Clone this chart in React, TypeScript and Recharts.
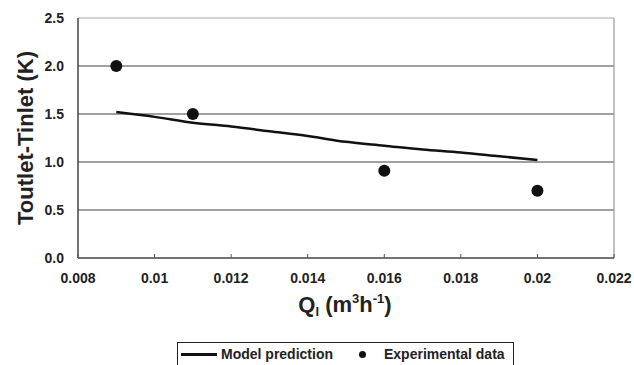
import { ComposedChart, Line, Scatter, XAxis, YAxis, CartesianGrid, ReferenceLine } from "recharts";

// Model prediction curve (Ql, Toutlet-Tinlet)
const modelQ = [0.009, 0.01, 0.011, 0.012, 0.013, 0.014, 0.015, 0.016, 0.017, 0.018, 0.019, 0.02];
const modelDT = [1.52, 1.47, 1.41, 1.37, 1.32, 1.27, 1.21, 1.17, 1.13, 1.1, 1.06, 1.02];

// Experimental points
const expQ = [0.009, 0.011, 0.016, 0.02];
const expDT = [2.0, 1.5, 0.91, 0.7];

const xTicks = [0.008, 0.01, 0.012, 0.014, 0.016, 0.018, 0.02, 0.022];
const yTicks = [0, 0.5, 1.0, 1.5, 2.0, 2.5];
const gridY = [0.5, 1.0, 1.5, 2.0];

const modelData = modelQ.map((q, i) => ({ q, dt: modelDT[i] }));
const expData = expQ.map((q, i) => ({ q, dt: expDT[i] }));

const font = "'Liberation Sans', Arial, sans-serif";
const ink = "#222";

function XTick({ x, y, payload }: any) {
  return (
    <g>
      <line x1={x} x2={x} y1={y} y2={y - 4} stroke="#555" strokeWidth={1} />
      <text x={x} y={y + 25} textAnchor="middle" fontFamily={font} fontWeight="bold" fontSize={14} fill={ink}>
        {String(payload.value)}
      </text>
    </g>
  );
}

function YTick({ x, y, payload }: any) {
  return (
    <text x={x - 6} y={y + 5} textAnchor="end" fontFamily={font} fontWeight="bold" fontSize={14} fill={ink}>
      {payload.value.toFixed(1)}
    </text>
  );
}

function XLabel({ viewBox }: any) {
  const cx = viewBox.x + viewBox.width / 2 - 1;
  return (
    <text x={cx} y={viewBox.y + 54} textAnchor="middle" fontFamily={font} fontWeight="bold" fontSize={22} fill={ink}>
      Q<tspan fontSize={13} dy={4}>l</tspan>
      <tspan dy={-4}> (m</tspan>
      <tspan fontSize={13} dy={-9}>3</tspan>
      <tspan dy={9}>h</tspan>
      <tspan fontSize={13} dy={-9}>-1</tspan>
      <tspan dy={9}>)</tspan>
    </text>
  );
}

function YLabel({ viewBox }: any) {
  const cy = viewBox.y + viewBox.height / 2;
  const lx = 25;
  return (
    <text x={lx} y={cy} textAnchor="middle" transform={`rotate(-90 ${lx} ${cy})`} dy={8} fontFamily={font} fontWeight="bold" fontSize={22} fill={ink}>
      Toutlet-Tinlet (K)
    </text>
  );
}

function LegendBox() {
  return (
    <div
      style={{
        position: "absolute",
        left: 177,
        top: 342,
        width: 337,
        border: "1px solid #222",
        height: 28,
        display: "flex",
        alignItems: "center",
        fontFamily: font,
        fontWeight: "bold",
        fontSize: 14,
        color: ink,
        boxSizing: "border-box",
        paddingBottom: 4,
      }}
    >
      <span style={{ display: "inline-block", width: 36, height: 3, background: "#111", marginLeft: 3, marginRight: 4 }} />
      <span>Model prediction</span>
      <span style={{ display: "inline-block", width: 7, height: 7, borderRadius: "50%", background: "#111", marginLeft: 26, marginRight: 18 }} />
      <span>Experimental data</span>
    </div>
  );
}

export default function App() {
  return (
    <div style={{ position: "absolute", left: 0, top: 0, width: 634, height: 365, background: "#fff", overflow: "hidden" }}>
      <ComposedChart width={634} height={365} margin={{ top: 18, right: 20, bottom: 77, left: 0 }}>
        <CartesianGrid horizontal vertical={false} horizontalValues={gridY} stroke="#444" strokeWidth={1.2} />
        <ReferenceLine y={2.5} stroke="#aaa" strokeWidth={1.2} />
        <ReferenceLine x={0.022} stroke="#999" strokeWidth={1.2} />
        <XAxis
          type="number"
          dataKey="q"
          domain={[0.008, 0.022]}
          ticks={xTicks}
          allowDataOverflow
          tickLine={false}
          tickSize={0}
          tickMargin={0}
          height={30}
          stroke="#444"
          strokeWidth={1.5}
          tick={<XTick />}
          label={<XLabel />}
        />
        <YAxis
          type="number"
          dataKey="dt"
          domain={[0, 2.5]}
          ticks={yTicks}
          width={78}
          tickLine={false}
          stroke="#444"
          strokeWidth={1.5}
          tick={<YTick />}
          label={<YLabel />}
        />
        <Line
          data={modelData}
          dataKey="dt"
          name="Model prediction"
          type="monotone"
          stroke="#111"
          strokeWidth={2.5}
          dot={false}
          isAnimationActive={false}
        />
        <Scatter
          data={expData}
          dataKey="dt"
          name="Experimental data"
          fill="#111"
          shape={(p: any) => <circle cx={p.cx} cy={p.cy} r={6} fill="#111" />}
          isAnimationActive={false}
        />
      </ComposedChart>
      <LegendBox />
    </div>
  );
}
